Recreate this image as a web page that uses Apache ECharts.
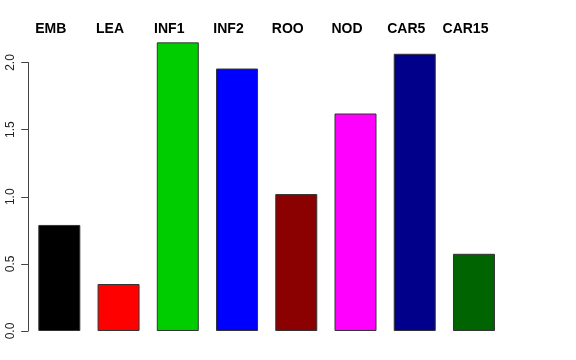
<!DOCTYPE html>
<html>
<head>
<meta charset="utf-8">
<script src="https://cdn.jsdelivr.net/npm/echarts@6/dist/echarts.min.js"></script>
<style>html,body{margin:0;padding:0;background:#fff;}#c{width:576px;height:360px;}</style>
</head>
<body>
<div id="c"></div>
<script>
var categories = ['EMB', 'LEA', 'INF1', 'INF2', 'ROO', 'NOD', 'CAR5', 'CAR15'];
var values = [0.79, 0.35, 2.15, 1.955, 1.02, 1.62, 2.065, 0.575];
var colors = ['#000000', '#FF0000', '#00CD00', '#0000FF', '#8B0000', '#FF00FF', '#00008B', '#006400'];
var yTicks = [0, 0.5, 1.0, 1.5, 2.0];

var chart = echarts.init(document.getElementById('c'), null, {renderer: 'canvas'});
chart.setOption({
  animation: false,
  backgroundColor: '#ffffff',
  grid: {left: 29.7, right: 72.4, top: 62.5, bottom: 29},
  xAxis: {
    type: 'category',
    position: 'top',
    data: categories,
    boundaryGap: true,
    axisLine: {show: false},
    axisTick: {show: false},
    axisLabel: {
      margin: 26,
      fontSize: 14,
      fontWeight: 'bold',
      fontFamily: 'Liberation Sans, Arial, sans-serif',
      color: '#000',
      padding: [0, 17, 0, 0],
      interval: 0
    }
  },
  yAxis: {
    type: 'value',
    min: yTicks[0],
    max: yTicks[yTicks.length - 1],
    interval: 0.5,
    offset: 1.5,
    splitLine: {show: false},
    axisLine: {show: true, lineStyle: {color: '#444', width: 1}},
    axisTick: {show: true, length: 7, inside: false, lineStyle: {color: '#444', width: 1}},
    axisLabel: {
      rotate: 90,
      margin: 12,
      fontSize: 12,
      fontFamily: 'Liberation Sans, Arial, sans-serif',
      color: '#222',
      formatter: function (v) { return v.toFixed(1); }
    }
  },
  series: [{
    type: 'bar',
    clip: false,
    barWidth: 42,
    data: values.map(function (v, i) {
      return {value: v, itemStyle: {color: colors[i], borderColor: '#333', borderWidth: 1}};
    })
  }]
});
</script>
</body>
</html>
